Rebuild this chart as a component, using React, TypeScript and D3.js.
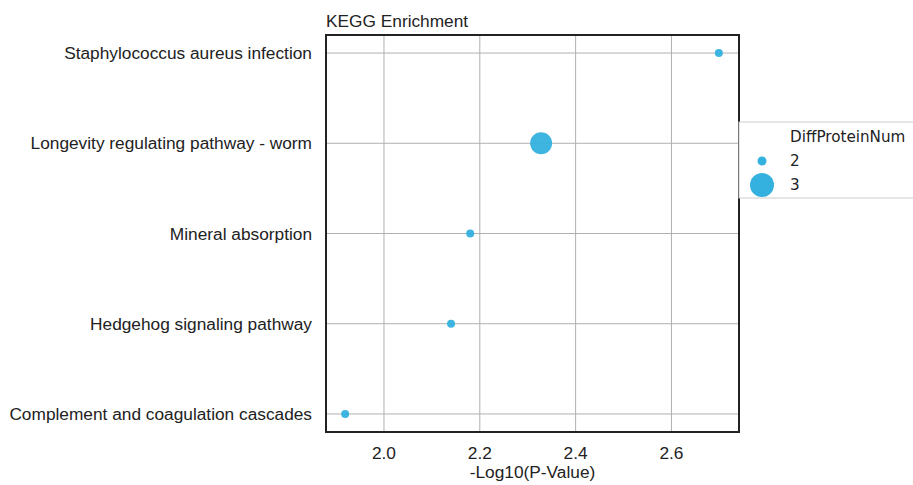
import { useEffect, useRef } from "react";
import * as d3 from "d3";

const pathways = [
  "Staphylococcus aureus infection",
  "Longevity regulating pathway - worm",
  "Mineral absorption",
  "Hedgehog signaling pathway",
  "Complement and coagulation cascades",
];
const logP = [2.699, 2.328, 2.18, 2.14, 1.919];
const diffNum = [2, 3, 2, 2, 2];
const xTicks = [2.0, 2.2, 2.4, 2.6];
const legendSizes = [2, 3];

const COLOR = "#34b1de";

function App() {
  const ref = useRef<SVGSVGElement>(null);

  useEffect(() => {
    const svg = d3.select(ref.current);
    svg.selectAll("*").remove();

    const left = 326;
    const right = 739;
    const top = 35;
    const bottom = 432;

    const x = d3.scaleLinear().domain([1.879, 2.741]).range([left, right]);
    const y = d3.scalePoint().domain(pathways).range([top, bottom]).padding(0.2);
    const r = d3.scaleOrdinal<number, number>().domain([2, 3]).range([4, 11]);

    const font = "'Liberation Sans', Arial, sans-serif";
    const fs = 17.3;
    const legendFont = "'DejaVu Sans', sans-serif";
    const lfs = 15.2;

    // grid
    const grid = svg.append("g").attr("stroke", "#b0b0b0").attr("stroke-width", 1);
    grid
      .selectAll("line.v")
      .data(xTicks)
      .enter()
      .append("line")
      .attr("x1", (d) => x(d))
      .attr("x2", (d) => x(d))
      .attr("y1", top)
      .attr("y2", bottom);
    grid
      .selectAll("line.h")
      .data(pathways)
      .enter()
      .append("line")
      .attr("x1", left)
      .attr("x2", right)
      .attr("y1", (d) => y(d)!)
      .attr("y2", (d) => y(d)!);

    // points
    svg
      .append("g")
      .selectAll("circle")
      .data(pathways)
      .enter()
      .append("circle")
      .attr("cx", (_, i) => x(logP[i]))
      .attr("cy", (d) => y(d)!)
      .attr("r", (_, i) => r(diffNum[i]))
      .attr("fill", COLOR)
      .attr("opacity", 0.95);

    // frame
    svg
      .append("rect")
      .attr("x", left)
      .attr("y", top)
      .attr("width", right - left)
      .attr("height", bottom - top)
      .attr("fill", "none")
      .attr("stroke", "#222")
      .attr("stroke-width", 2);

    // y labels
    svg
      .append("g")
      .selectAll("text")
      .data(pathways)
      .enter()
      .append("text")
      .attr("x", left - 14)
      .attr("y", (d) => y(d)!)
      .attr("dy", "0.35em")
      .attr("text-anchor", "end")
      .attr("font-family", font)
      .attr("font-size", fs)
      .attr("fill", "#222")
      .text((d) => d);

    // x tick labels
    svg
      .append("g")
      .selectAll("text")
      .data(xTicks)
      .enter()
      .append("text")
      .attr("x", (d) => x(d))
      .attr("y", 459)
      .attr("text-anchor", "middle")
      .attr("font-family", font)
      .attr("font-size", fs)
      .attr("fill", "#222")
      .text((d) => d.toFixed(1));

    svg
      .append("text")
      .attr("x", (left + right) / 2)
      .attr("y", 478)
      .attr("text-anchor", "middle")
      .attr("font-family", font)
      .attr("font-size", fs)
      .attr("fill", "#222")
      .text("-Log10(P-Value)");

    svg
      .append("text")
      .attr("x", left)
      .attr("y", 27)
      .attr("font-family", font)
      .attr("font-size", fs)
      .attr("fill", "#222")
      .text("KEGG Enrichment");

    // legend
    const lg = svg.append("g");
    lg.append("rect")
      .attr("x", 739)
      .attr("y", 122)
      .attr("width", 200)
      .attr("height", 76)
      .attr("fill", "#fff")
      .attr("stroke", "#cccccc")
      .attr("stroke-width", 1);
    lg.append("text")
      .attr("x", 790)
      .attr("y", 142)
      .attr("font-family", legendFont)
      .attr("font-size", lfs)
      .attr("fill", "#222")
      .text("DiffProteinNum");
    legendSizes.forEach((s, i) => {
      const cy = 161 + i * 24;
      lg.append("circle")
        .attr("cx", 762)
        .attr("cy", cy)
        .attr("r", s === 2 ? 4.5 : 12)
        .attr("fill", COLOR);
      lg.append("text")
        .attr("x", 790)
        .attr("y", cy)
        .attr("dy", "0.35em")
        .attr("font-family", legendFont)
        .attr("font-size", lfs)
        .attr("fill", "#222")
        .text(String(s));
    });
  }, []);

  return (
    <svg
      ref={ref}
      width={913}
      height={485}
      style={{ position: "absolute", left: 0, top: 0, background: "#fff" }}
    ></svg>
  );
}

export default App;
